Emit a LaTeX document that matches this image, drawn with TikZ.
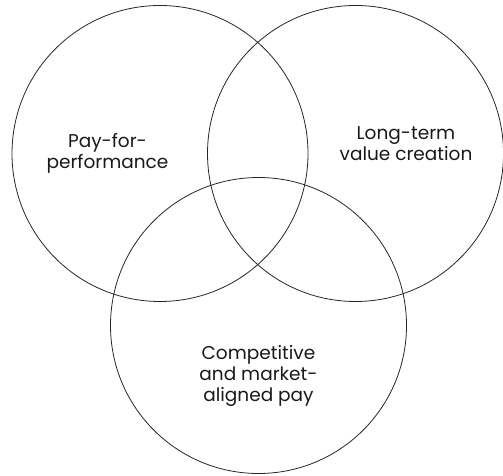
\documentclass[tikz,border=0pt]{standalone}
\usepackage{fontspec}
\setmainfont{Poppins}
\begin{document}
\begin{tikzpicture}[x=1pt,y=-1pt,
  ring/.style={circle,draw=black!85,line width=0.8pt,minimum size=296pt,inner sep=0pt},
  lbl/.style={align=center,inner sep=0pt,font=\fontsize{18.5}{21}\selectfont,text=black!90}]
\useasboundingbox (0,0) rectangle (503,476);
\node[ring] (c1) at (160,153.5) {};
\node[ring] (c2) at (355.5,153.5) {};
\node[ring] (c3) at (258.5,325.5) {};
\node[lbl] (t1) at (107.5,153) {Pay-for-\\performance};
\node[lbl] (t2) at (406,144) {Long-term\\value creation};
\node[lbl] (t3) at (258.5,376) {Competitive\\and market-\\aligned pay};
\end{tikzpicture}
\end{document}
